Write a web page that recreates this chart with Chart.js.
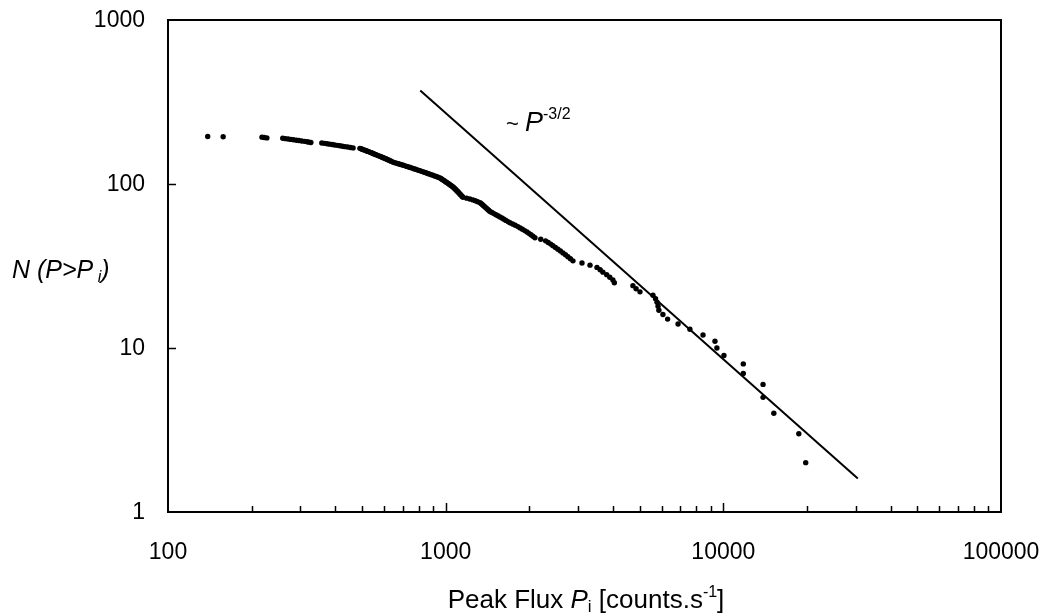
<!DOCTYPE html>
<html>
<head>
<meta charset="utf-8">
<script src="https://cdn.jsdelivr.net/npm/chart.js@4/dist/chart.umd.min.js"></script>
<style>
  html, body { margin: 0; padding: 0; background: #fff; }
  #wrap { width: 1051px; height: 616px; position: relative; }
</style>
</head>
<body>
<div id="wrap"><canvas id="chart"></canvas></div>
<script>
// peak flux of each burst, brightest last
const peakFlux = [
  139, 158, 218, 222, 227, 259, 265, 271, 277, 283, 290, 296, 303, 310, 317,
  322, 327, 358, 366, 374, 382, 390, 398, 407, 416, 425, 434, 444, 454, 464,
  491, 496, 500, 505, 510, 515, 520, 525, 530, 535, 540, 545, 550, 555, 561,
  566, 571, 577, 582, 588, 593, 599, 605, 611, 616, 622, 628, 634, 640, 646,
  655, 665, 675, 684, 694, 704, 714, 725, 735, 746, 757, 768, 779, 790, 801,
  813, 825, 837, 849, 861, 873, 886, 899, 912, 925, 939, 953,
  961, 969, 977, 985, 994, 1002, 1010, 1019, 1027, 1036, 1045, 1054, 1063,
  1070, 1077, 1084, 1090, 1097, 1104, 1111, 1118, 1125, 1132, 1140, 1147, 1154,
  1190, 1222, 1254, 1279, 1304, 1329,
  1341, 1354, 1366, 1379, 1392, 1405, 1418, 1431, 1444,
  1468, 1492, 1517, 1542, 1568, 1594, 1621, 1648, 1676, 1704,
  1742, 1780, 1820, 1854, 1890, 1926, 1963, 1995, 2028, 2062, 2097,
  2200, 2290, 2340, 2390, 2434, 2485, 2537, 2590, 2645, 2700, 2755, 2814, 2874,
  3097, 3310, 3507, 3600, 3684, 3800, 3900, 4002, 4050,
  4725, 4850, 5010, 5580, 5700, 5770, 5820, 5860, 6060, 6300, 6870, 7580,
  8450, 9330, 9480, 10050, 11800, 11800, 13900, 13900, 15200, 18700, 19800
];

// number of bursts brighter than P_i
const countAbove = [
  195, 194, 193, 192, 191, 190, 189, 188, 187, 186, 185, 184, 183, 182, 181,
  180, 179, 178, 177, 176, 175, 174, 173, 172, 171, 170, 169, 168, 167, 166,
  165, 164, 163, 162, 161, 160, 159, 158, 157, 156, 155, 154, 153, 152, 151,
  150, 149, 148, 147, 146, 145, 144, 143, 142, 141, 140, 139, 138, 137, 136,
  135, 134, 133, 132, 131, 130, 129, 128, 127, 126, 125, 124, 123, 122, 121,
  120, 119, 118, 117, 116, 115, 114, 113, 112, 111, 110, 109,
  108, 107, 106, 105, 104, 103, 102, 101, 100, 99, 98, 97, 96,
  95, 94, 93, 92, 91, 90, 89, 88, 87, 86, 85, 84, 83,
  82, 81, 80, 79, 78, 77,
  76, 75, 74, 73, 72, 71, 70, 69, 68,
  67, 66, 65, 64, 63, 62, 61, 60, 59, 58,
  57, 56, 55, 54, 53, 52, 51, 50, 49, 48, 47,
  46, 45, 44, 43, 42, 41, 40, 39, 38, 37, 36, 35, 34,
  33, 32, 31, 30, 29, 28, 27, 26, 25,
  24, 23, 22, 21, 20, 19, 18, 17, 16, 15, 14, 13,
  12, 11, 10, 9, 8, 7, 6, 5, 4, 3, 2
];

// ~P^-3/2 reference line end points
const slopeFlux = [810, 30500];
const slopeCount = [372, 1.6];

const xLabels = [100, 1000, 10000, 100000];
const yLabels = [1, 10, 100, 1000];
const xMinor = [200, 300, 400, 500, 600, 700, 800, 900,
  2000, 3000, 4000, 5000, 6000, 7000, 8000, 9000,
  20000, 30000, 40000, 50000, 60000, 70000, 80000, 90000];
const xMajor = [1000, 10000];
const yMajor = [10, 100];

const FONT = '"Liberation Sans", Arial, sans-serif';

// draws a row of text pieces (italic / sub / superscript) from a start x
const drawRuns = (ctx, x, y, runs, align) => {
  const fontOf = (r) => `${r.italic ? 'italic ' : ''}${r.size}px ${FONT}`;
  let width = 0;
  runs.forEach((r) => { ctx.font = fontOf(r); width += ctx.measureText(r.text).width; });
  let cx = align === 'center' ? x - width / 2 : x;
  ctx.textAlign = 'left';
  ctx.textBaseline = 'alphabetic';
  runs.forEach((r) => {
    ctx.font = fontOf(r);
    ctx.fillText(r.text, cx, y + (r.dy || 0));
    cx += ctx.measureText(r.text).width;
  });
};

const framePlugin = {
  id: 'frame',
  afterDatasetsDraw(chart) {
    const { ctx, chartArea: a, scales } = chart;
    ctx.save();
    ctx.strokeStyle = '#000';
    ctx.lineWidth = 2;
    ctx.strokeRect(a.left, a.top, a.right - a.left, a.bottom - a.top);

    // inward tick marks
    ctx.lineWidth = 1.5;
    ctx.beginPath();
    xMinor.forEach((v) => {
      const px = Math.round(scales.x.getPixelForValue(v)) + 0.5;
      ctx.moveTo(px, a.bottom);
      ctx.lineTo(px, a.bottom - 6);
    });
    xMajor.forEach((v) => {
      const px = Math.round(scales.x.getPixelForValue(v)) + 0.5;
      ctx.moveTo(px, a.bottom);
      ctx.lineTo(px, a.bottom - 9);
    });
    yMajor.forEach((v) => {
      const py = Math.round(scales.y.getPixelForValue(v)) + 0.5;
      ctx.moveTo(a.left, py);
      ctx.lineTo(a.left + 8, py);
    });
    ctx.stroke();

    // tick labels
    ctx.fillStyle = '#000';
    ctx.font = `23px ${FONT}`;
    ctx.textBaseline = 'middle';
    ctx.textAlign = 'right';
    yLabels.forEach((v) => {
      ctx.fillText(String(v), a.left - 23, scales.y.getPixelForValue(v) + 1);
    });
    ctx.textAlign = 'center';
    xLabels.forEach((v) => {
      ctx.fillText(String(v), scales.x.getPixelForValue(v), 553);
    });

    // slope annotation
    drawRuns(ctx, 506, 131, [
      { text: '~ ', size: 22 },
      { text: 'P', size: 27, italic: true },
      { text: '-3/2', size: 16, dy: -12 }
    ]);
    // axis titles
    drawRuns(ctx, 12, 278, [
      { text: 'N (P>P', size: 25, italic: true },
      { text: ' i', size: 16, italic: true, dy: 4 },
      { text: ')', size: 25, italic: true }
    ]);
    drawRuns(ctx, 586, 608, [
      { text: 'Peak Flux ', size: 26 },
      { text: 'P', size: 26, italic: true },
      { text: 'i', size: 17, dy: 4 },
      { text: ' [counts.s', size: 26 },
      { text: '-1', size: 16, dy: -11 },
      { text: ']', size: 26 }
    ], 'center');
    ctx.restore();
  }
};

new Chart(document.getElementById('chart'), {
  type: 'scatter',
  data: {
    datasets: [
      {
        data: peakFlux.map((p, i) => ({ x: p, y: countAbove[i] })),
        backgroundColor: '#000',
        borderWidth: 0,
        pointRadius: 2.7,
        pointHoverRadius: 2.7,
      },
      {
        data: slopeFlux.map((p, i) => ({ x: p, y: slopeCount[i] })),
        showLine: true,
        borderColor: '#000',
        borderWidth: 2,
        pointRadius: 0,
        fill: false,
      },
    ],
  },
  options: {
    responsive: true,
    maintainAspectRatio: false,
    animation: false,
    events: [],
    layout: { padding: { top: 20, right: 50, left: 0, bottom: 0 } },
    plugins: { legend: { display: false }, tooltip: { enabled: false } },
    scales: {
      x: {
        type: 'logarithmic',
        min: 100,
        max: 100000,
        grid: { display: false },
        border: { display: false },
        ticks: { display: false },
        afterFit: (scale) => { scale.height = 104; },
      },
      y: {
        type: 'logarithmic',
        min: 1,
        max: 1000,
        grid: { display: false },
        border: { display: false },
        ticks: { display: false },
        afterFit: (scale) => { scale.width = 168; },
      },
    },
  },
  plugins: [framePlugin],
});
</script>
</body>
</html>
